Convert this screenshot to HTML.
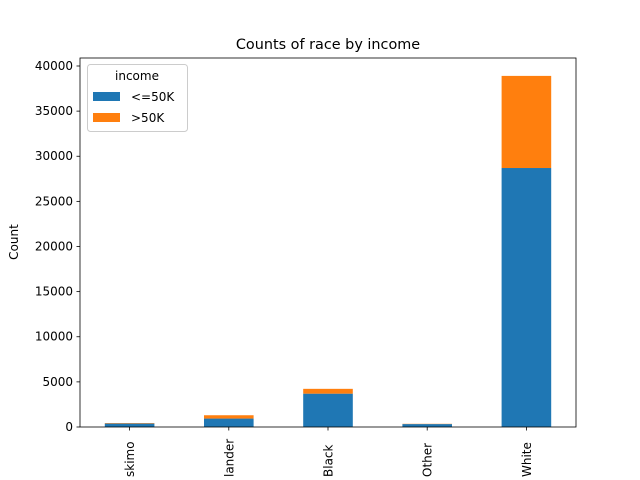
<!DOCTYPE html>
<html><head><meta charset="utf-8"><style>
html,body{margin:0;padding:0;background:#fff;width:640px;height:480px;overflow:hidden}
svg{display:block}
svg text{font-family:"DejaVu Sans","Liberation Sans",sans-serif;fill:#000}
</style></head><body>
<svg id="chart" width="640" height="480" viewBox="0 0 640 480">
<rect width="640" height="480" fill="#fff"/>
<text x="328" y="49" font-size="14.4" text-anchor="middle">Counts of race by income</text>
<g id="bars"></g>
<g id="yaxis"></g>
<g id="xaxis"></g>
<rect x="80" y="58" width="496" height="369" fill="none" stroke="#000" stroke-width="0.8"/>
<text transform="translate(18,242) rotate(-90)" font-size="12" text-anchor="middle">Count</text>
<g>
<rect x="87.5" y="64.5" width="100" height="67" rx="3" fill="#fff" fill-opacity="0.8" stroke="#ccc"/>
<text x="137" y="80" font-size="12" text-anchor="middle">income</text>
<rect x="93" y="92" width="27" height="9" fill="#1f77b4"/>
<text x="131" y="101" font-size="12">&lt;=50K</text>
<rect x="93" y="113" width="27" height="9" fill="#ff7f0e"/>
<text x="131" y="122" font-size="12">&gt;50K</text>
</g>
</svg>
<script>
const categories = ["Amer-Indian-Eskimo","Asian-Pac-Islander","Black","Other","White"];
const lowIncome = [382, 934, 3694, 323, 28696];
const highIncome = [53, 369, 534, 30, 10207];
const yTicks = [0,5000,10000,15000,20000,25000,30000,35000,40000];
const NS="http://www.w3.org/2000/svg";
const L=80,R=576,T=58,B=427,yMax=40886;
const y=v=>B-(v/yMax)*(B-T);
const step=(R-L)/categories.length;
const xc=i=>L+step*(i+0.5);
const bw=step*0.5;
function mk(t,a){const e=document.createElementNS(NS,t);for(const k in a)e.setAttribute(k,a[k]);return e;}
const bars=document.getElementById('bars');
categories.forEach((c,i)=>{
  const r1=mk('rect',{x:xc(i)-bw/2,y:y(lowIncome[i]),width:bw,height:B-y(lowIncome[i]),fill:'#1f77b4'});
  
  
  bars.appendChild(r1);
  const top=lowIncome[i]+highIncome[i];
  const r2=mk('rect',{x:xc(i)-bw/2,y:y(top),width:bw,height:y(lowIncome[i])-y(top),fill:'#ff7f0e'});
  
  
  bars.appendChild(r2);
});
const ya=document.getElementById('yaxis');
yTicks.forEach(v=>{
  const l=mk('line',{x1:L-3.5,x2:L,y1:y(v),y2:y(v),stroke:'#000','stroke-width':0.8});
  
  
  ya.appendChild(l);
  const t=mk('text',{x:L-7,y:y(v)+4,'font-size':12,'text-anchor':'end'});
  
  
  t.textContent=v;ya.appendChild(t);
});
const xa=document.getElementById('xaxis');
categories.forEach((c,i)=>{
  const l=mk('line',{x1:xc(i),x2:xc(i),y1:B,y2:B+3.5,stroke:'#000','stroke-width':0.8});
  
  
  xa.appendChild(l);
  const t=mk('text',{transform:`translate(${xc(i)+4.5},477) rotate(-90)`,'font-size':12,'text-anchor':'start'});
  
  
  const full=c;
  // label is clipped by figure edge in reference: show only the tail that fits above the axis
  t.textContent=full;xa.appendChild(t);
  const maxLen=477-(B+8);
  let s=full;
  while(t.getComputedTextLength()>maxLen && s.length>1){s=s.slice(1);t.textContent=s;}
});
</script>
</body></html>
